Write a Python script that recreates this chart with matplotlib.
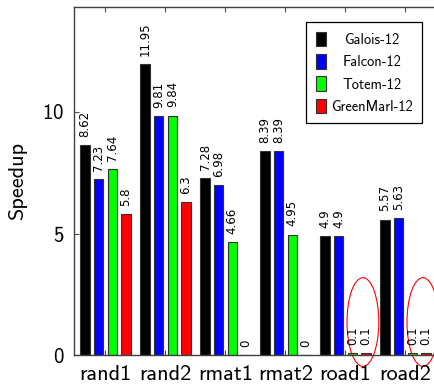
import matplotlib
matplotlib.use('Agg')
import matplotlib.pyplot as plt
import numpy as np
from matplotlib.patches import Ellipse
from matplotlib.transforms import IdentityTransform

categories = ['rand1', 'rand2', 'rmat1', 'rmat2', 'road1', 'road2']
series_names = ['Galois-12', 'Falcon-12', 'Totem-12', 'GreenMarl-12']
galois = [8.62, 11.95, 7.28, 8.39, 4.9, 5.57]
falcon = [7.23, 9.81, 6.98, 8.39, 4.9, 5.63]
totem = [7.64, 9.84, 4.66, 4.95, 0.1, 0.1]
greenmarl = [5.8, 6.3, 0, 0, 0.1, 0.1]
yticks = [0, 5, 10]
highlighted = ['road1', 'road2']
colors = ['#000000', '#0000ff', '#00ff00', '#ff0000']

plt.rcParams['font.family'] = ['cmss10', 'DejaVu Sans']
plt.rcParams['axes.formatter.use_mathtext'] = True

fig = plt.figure(figsize=(4.34, 3.85), dpi=100)
ax = fig.add_axes([0.1705, 0.0769, 0.8364, 0.9049])

x = np.arange(len(categories))
pitch = 0.227
width = 0.158
series = [galois, falcon, totem, greenmarl]
containers = []
for i, (vals, c, name) in enumerate(zip(series, colors, series_names)):
    pos = x + (i - 1.5) * pitch
    bc = ax.bar(pos, vals, width, color=c, edgecolor='0.2', linewidth=0.8, label=name)
    containers.append(bc)
    for p, v in zip(pos, vals):
        ax.annotate(f'{v:g}', (p, v), xytext=(0, 6), textcoords='offset points',
                    rotation=90, ha='center', va='bottom', fontsize=8.5,
                    family='DejaVu Sans')

for name in highlighted:
    idx = categories.index(name)
    ax.add_patch(Ellipse((idx + 0.29, 1.37), 0.53, 3.64, fill=False,
                         edgecolor='red', linewidth=0.8, clip_on=False))

ax.set_xlim(-0.525, 5.525)
ax.set_ylim(0, 14.3)
ax.set_xticks(x, categories)
ax.set_yticks(yticks)
ax.tick_params(axis='both', direction='in', length=3.5, color='0.3')
ax.tick_params(axis='x', top=True, pad=7, labelsize=16)
ax.tick_params(axis='y', pad=7, labelsize=15)
ax.set_ylabel('Speedup', fontsize=16, labelpad=11)
for s in ax.spines.values():
    s.set_linewidth(1.0)
    s.set_color('0.25')

leg = ax.legend(handles=containers, loc='upper right',
                bbox_to_anchor=(422 / 434, 1 - 22 / 385), bbox_transform=fig.transFigure,
                borderaxespad=0, fontsize=10.4, handlelength=0.7, handleheight=1.18,
                handletextpad=0.35, labelspacing=0.5, borderpad=0.66,
                fancybox=False, framealpha=1, edgecolor='black')
leg.get_frame().set_linewidth(0.9)

fig.canvas.draw()
renderer = fig.canvas.get_renderer()
texts = leg.get_texts()
bbs = [t.get_window_extent(renderer) for t in texts]
x0 = min(b.x0 for b in bbs)
x1 = max(b.x1 for b in bbs)
for t, b in zip(texts, bbs):
    fig.text((x0 + x1) / 2, (b.y0 + b.y1) / 2, t.get_text(), transform=IdentityTransform(),
             ha='center', va='center', fontsize=10.4)
    t.set_visible(False)

fig.savefig('out.png', dpi=100)
